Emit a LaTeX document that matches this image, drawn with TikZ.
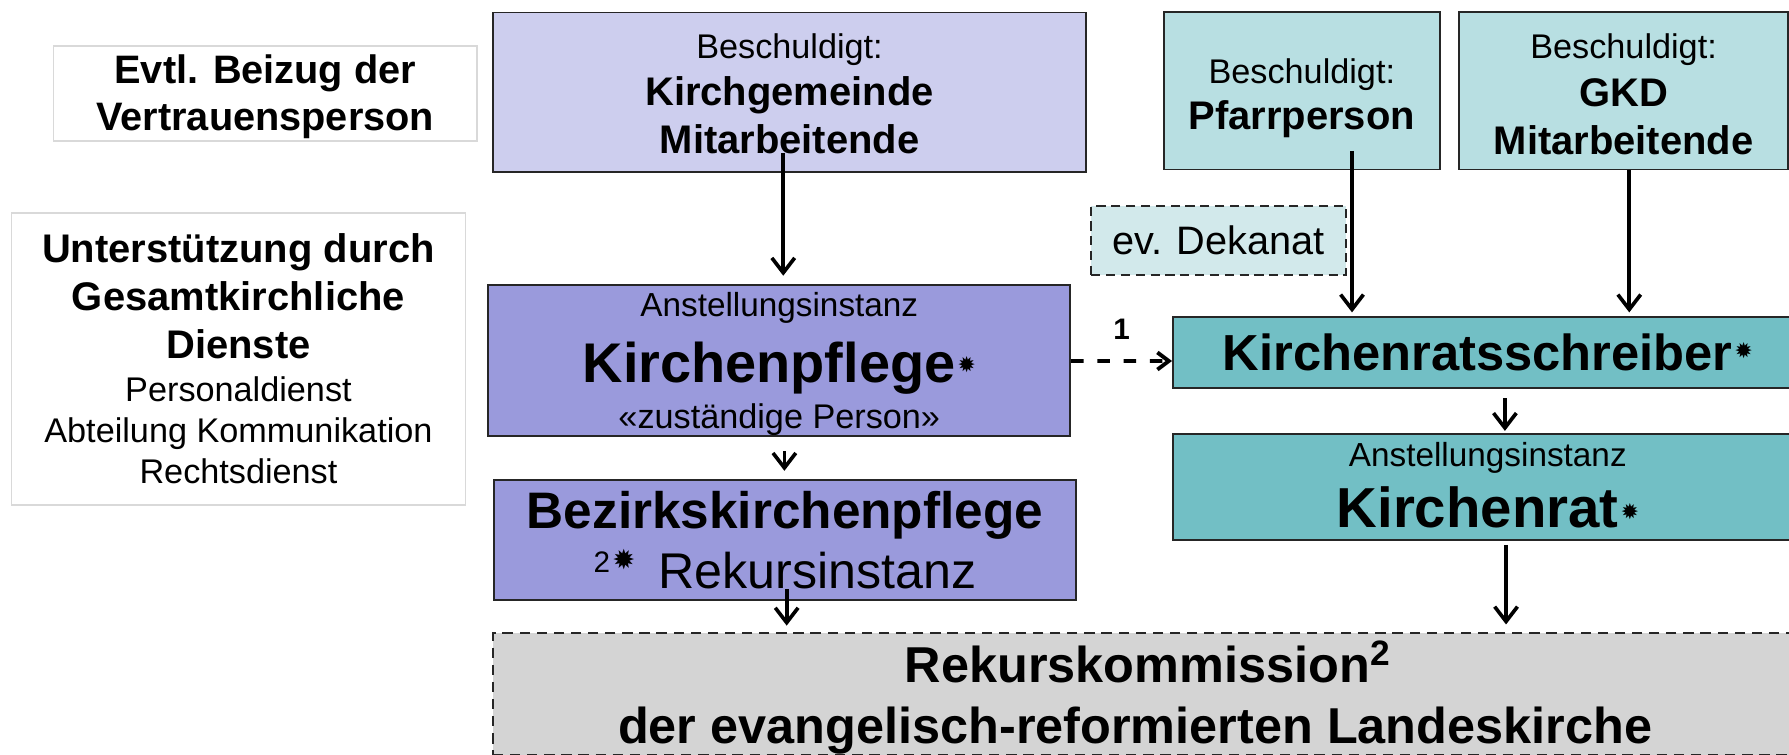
\documentclass[tikz,border=0pt]{standalone}
\usepackage{fontspec}
\setmainfont{Liberation Sans}
\newfontfamily\symfont{DejaVu Sans}
\usetikzlibrary{arrows.meta,calc}
\newcommand{\setfs}[2]{\fontsize{#1}{#2}\selectfont}
\newcommand{\kstar}[2]{\kern1pt\raisebox{#2}{\symfont\fontsize{#1}{#1}\selectfont ✹}}
% \tp{h}: strut of height h in the first row (pushes the text block down)
\newcommand{\tp}[1]{\rule{0pt}{#1}}
% \bt{d}: strut of depth d in the last row (pushes the text block up)
\newcommand{\bt}[1]{\rule[-#1]{0pt}{#1}}
\definecolor{kgfill}{RGB}{205,206,238}
\definecolor{kpfill}{RGB}{154,154,220}
\definecolor{tlight}{RGB}{184,223,226}
\definecolor{tdek}{RGB}{210,233,235}
\definecolor{tmid}{RGB}{114,191,197}
\definecolor{rgrey}{RGB}{212,212,212}
\definecolor{lgborder}{RGB}{217,217,217}
\begin{document}
\begin{tikzpicture}[x=0.5pt,y=-0.5pt,
  ebox/.style={draw=black!85, line width=0.75pt, inner sep=0pt, align=center, text=black},
  ghost/.style={draw=lgborder, line width=0.7pt, fill=white, inner sep=0pt, align=center},
  arr/.style={line width=1.6pt, -{Straight Barb[length=6.5pt,width=10pt]}},
  darr/.style={line width=1.7pt, dash pattern=on 5.5pt off 6pt, -{Straight Barb[length=5pt,width=7.5pt]}},
]
\useasboundingbox (0,0) rectangle (1568,661);
\clip (0,0) rectangle (1568,661);

% left info boxes
\node[ghost, minimum width=185.5pt, minimum height=41.5pt, font={\bfseries\setfs{17.4}{20.5}}] (evtl) at (232.5,82)
  {\tp{15.2pt}Evtl. Beizug der\\Vertrauensperson};
\node[ghost, minimum width=199pt, minimum height=128pt, font={\setfs{17.5}{18}}] (unter) at (209,314.5)
  {\bfseries Unterstützung durch\\[3pt]\bfseries Gesamtkirchliche\\[3pt]\bfseries Dienste\\[1pt]%
   \mdseries\setfs{15}{18}Personaldienst\\\mdseries\setfs{15}{18}Abteilung Kommunikation\\\mdseries\setfs{15}{18}Rechtsdienst};

% top row
\node[ebox, fill=kgfill, minimum width=260pt, minimum height=70pt, font={\bfseries\setfs{17.5}{21}}] (kg) at (692,81)
  {\mdseries\setfs{15}{21}\tp{12pt}Beschuldigt:\\\bfseries\setfs{17.5}{21}Kirchgemeinde\\\bfseries\setfs{17.5}{21}Mitarbeitende};
\node[ebox, fill=tlight, minimum width=121pt, minimum height=69pt, font={\bfseries\setfs{17.5}{20.5}}] (pf) at (1141,79.5)
  {\mdseries\setfs{15}{20.5}\tp{17.5pt}Beschuldigt:\\\bfseries\setfs{17.5}{20.5}Pfarrperson};
\node[ebox, fill=tlight, minimum width=144pt, minimum height=69pt, font={\bfseries\setfs{17.5}{21}}] (gkd) at (1423,79.5)
  {\mdseries\setfs{15}{21}\tp{14pt}Beschuldigt:\\\bfseries\setfs{17.5}{21}GKD\\\bfseries\setfs{17.5}{21}Mitarbeitende};
\node[ebox, dash pattern=on 4pt off 2.5pt, fill=tdek, minimum width=111.5pt, minimum height=30.25pt, font={\setfs{17.4}{18}}] (dek) at (1068,210.8)
  {ev. Dekanat};

% left column
\node[ebox, fill=kpfill, minimum width=255pt, minimum height=66pt, font={\bfseries\setfs{24.5}{20.5}}] (kpf) at (683,316)
  {\mdseries\setfs{14.6}{20.5}\tp{13.7pt}Anstellungsinstanz\\[7pt]\bfseries\setfs{24.5}{20.5}Kirchenpflege\kstar{9.5}{4.3pt}\\\mdseries\setfs{15}{20.5}«zuständige Person»};
\node[ebox, fill=kpfill, minimum width=255pt, minimum height=52.6pt, font={\bfseries\setfs{22.5}{26}}] (bez) at (688,473.3)
  {Bezirkskirchenpflege\\\mdseries\setfs{22}{26}\raisebox{7pt}{\setfs{13}{13}2}\kstar{12}{8pt}\hspace{10pt}Rekursinstanz};

% right column
\node[ebox, fill=tmid, minimum width=276pt, minimum height=31.15pt, font={\bfseries\setfs{22.2}{24}}] (krs) at (1304,308.7)
  {Kirchenratsschreiber\kstar{9.5}{5pt}};
\node[ebox, fill=tmid, minimum width=276pt, minimum height=46.5pt, font={\bfseries\setfs{24.7}{26.5}}] (kr) at (1304,426.9)
  {\mdseries\setfs{14.6}{26.5}Anstellungsinstanz\\\bfseries\setfs{24.7}{26.5}Kirchenrat\kstar{9.5}{3.5pt}\bt{2pt}};

% bottom
\node[ebox, dash pattern=on 4.5pt off 3pt, fill=rgrey, minimum width=574pt, minimum height=50.25pt, font={\bfseries\setfs{22.1}{27}}] (rek) at (1006,608.25)
  {\tp{21.5pt}Rekurskommission\textsuperscript{2}\\der evangelisch-reformierten Landeskirche\kern11pt\rule{0pt}{0pt}};

% connectors
\draw[arr] ($(kg.south)+(-5.5,-18)$) -- ($(kpf.north)+(3.5,-7.5)$);
\draw[arr] ($(kpf.south)+(4.5,12.5)$) -- ($(bez.north)+(-0.5,-7.3)$);
\draw[arr] ($(bez.south)+(1.5,-10.3)$) -- ($(rek.north)+(-316.5,-6)$);
\draw[arr] ($(pf.south)+(44,-17)$) -- ($(krs.north)+(-119,-3)$);
\draw[arr] ($(gkd.south)+(5,0)$) -- ($(krs.north)+(124,-3)$);
\draw[arr] ($(krs.south)+(15,8.4)$) -- ($(kr.north)+(15,-2)$);
\draw[arr] ($(kr.south)+(16,3.5)$) -- ($(rek.north)+(314,-7)$);
\draw[darr] ($(kpf.east)+(0,0.4)$) -- node[above=7.5pt, inner sep=1pt, font={\bfseries\setfs{13}{13}}] (one) {1} ($(krs.west)+(0,7.7)$);
\end{tikzpicture}
\end{document}
